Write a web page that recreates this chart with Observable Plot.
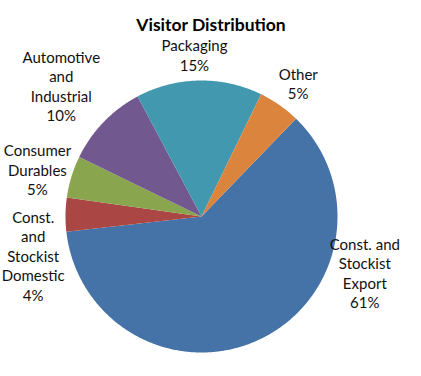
<!DOCTYPE html>
<html>
<head>
<meta charset="utf-8">
<script src="https://cdn.jsdelivr.net/npm/d3@7"></script>
<script src="https://cdn.jsdelivr.net/npm/@observablehq/plot@0.6"></script>
<style>
  html, body { margin: 0; padding: 0; background: #fff; }
  #chart svg { display: block; }
</style>
</head>
<body>
<div id="chart"></div>
<script>
// ---- data ----
const title = "Visitor Distribution";
const categories = [
  "Const. and Stockist Export",
  "Const. and Stockist Domestic",
  "Consumer Durables",
  "Automotive and Industrial",
  "Packaging",
  "Other"
];
const values = [61, 4, 5, 10, 15, 5];
const labelLines = [
  "Const. and\nStockist\nExport",
  "Const.\nand\nStockist\nDomestic",
  "Consumer\nDurables",
  "Automotive\nand\nIndustrial",
  "Packaging",
  "Other"
];
const colors = ["#4572A7", "#AA4643", "#89A54E", "#71588F", "#4198AF", "#DB843D"];

// ---- layout (not data) ----
const W = 421, H = 376;
const cx = 201, cy = 216, R = 136;        // pie centre and radius in pixels
const startDeg = 44;                       // first slice starts here, clockwise from 12 o'clock
const labelAngleDeg = [109, 257, 286, 313, -2.5, 36];   // label anchor direction
const labelRadius   = [1.27, 1.27, 1.255, 1.41, 1.19, 1.21]; // in pie radii

// ---- build slices ----
const total = d3.sum(values);
const slices = [];
let acc = startDeg;
values.forEach((v, i) => {
  const a0 = acc, a1 = acc + v / total * 360;
  acc = a1;
  slices.push({cat: categories[i], x: 0, y: 0});
  const n = Math.max(2, Math.ceil(a1 - a0) * 2);
  for (let k = 0; k <= n; k++) {
    const a = (a0 + (a1 - a0) * k / n) * Math.PI / 180;
    slices.push({cat: categories[i], x: Math.sin(a), y: Math.cos(a)});
  }
  slices.push({cat: categories[i], x: 0, y: 0});
});

const labels = categories.map((c, i) => {
  const a = labelAngleDeg[i] * Math.PI / 180;
  return {
    cat: c,
    text: labelLines[i] + "\n" + Math.round(values[i] / total * 100) + "%",
    x: Math.sin(a) * labelRadius[i],
    y: Math.cos(a) * labelRadius[i]
  };
});

const chart = Plot.plot({
  width: W,
  height: H,
  margin: 0,
  style: {fontFamily: "Lato, 'Open Sans', sans-serif", background: "#fff"},
  x: {domain: [-cx / R, (W - cx) / R], axis: null},
  y: {domain: [-(H - cy) / R, cy / R], axis: null},
  color: {domain: categories, range: colors},
  marks: [
    Plot.line(slices, {x: "x", y: "y", z: "cat", fill: "cat", stroke: "none", curve: "linear"}),
    Plot.text(labels, {x: "x", y: "y", text: "text", fontSize: 15, lineHeight: 1.3, fill: "#111", textAnchor: "middle"}),
    Plot.text([title], {frameAnchor: "top", dy: 18, text: d => d, fontSize: 17.5, fontWeight: "bold", fill: "#000"})
  ]
});
document.getElementById("chart").appendChild(chart);
</script>
</body>
</html>
